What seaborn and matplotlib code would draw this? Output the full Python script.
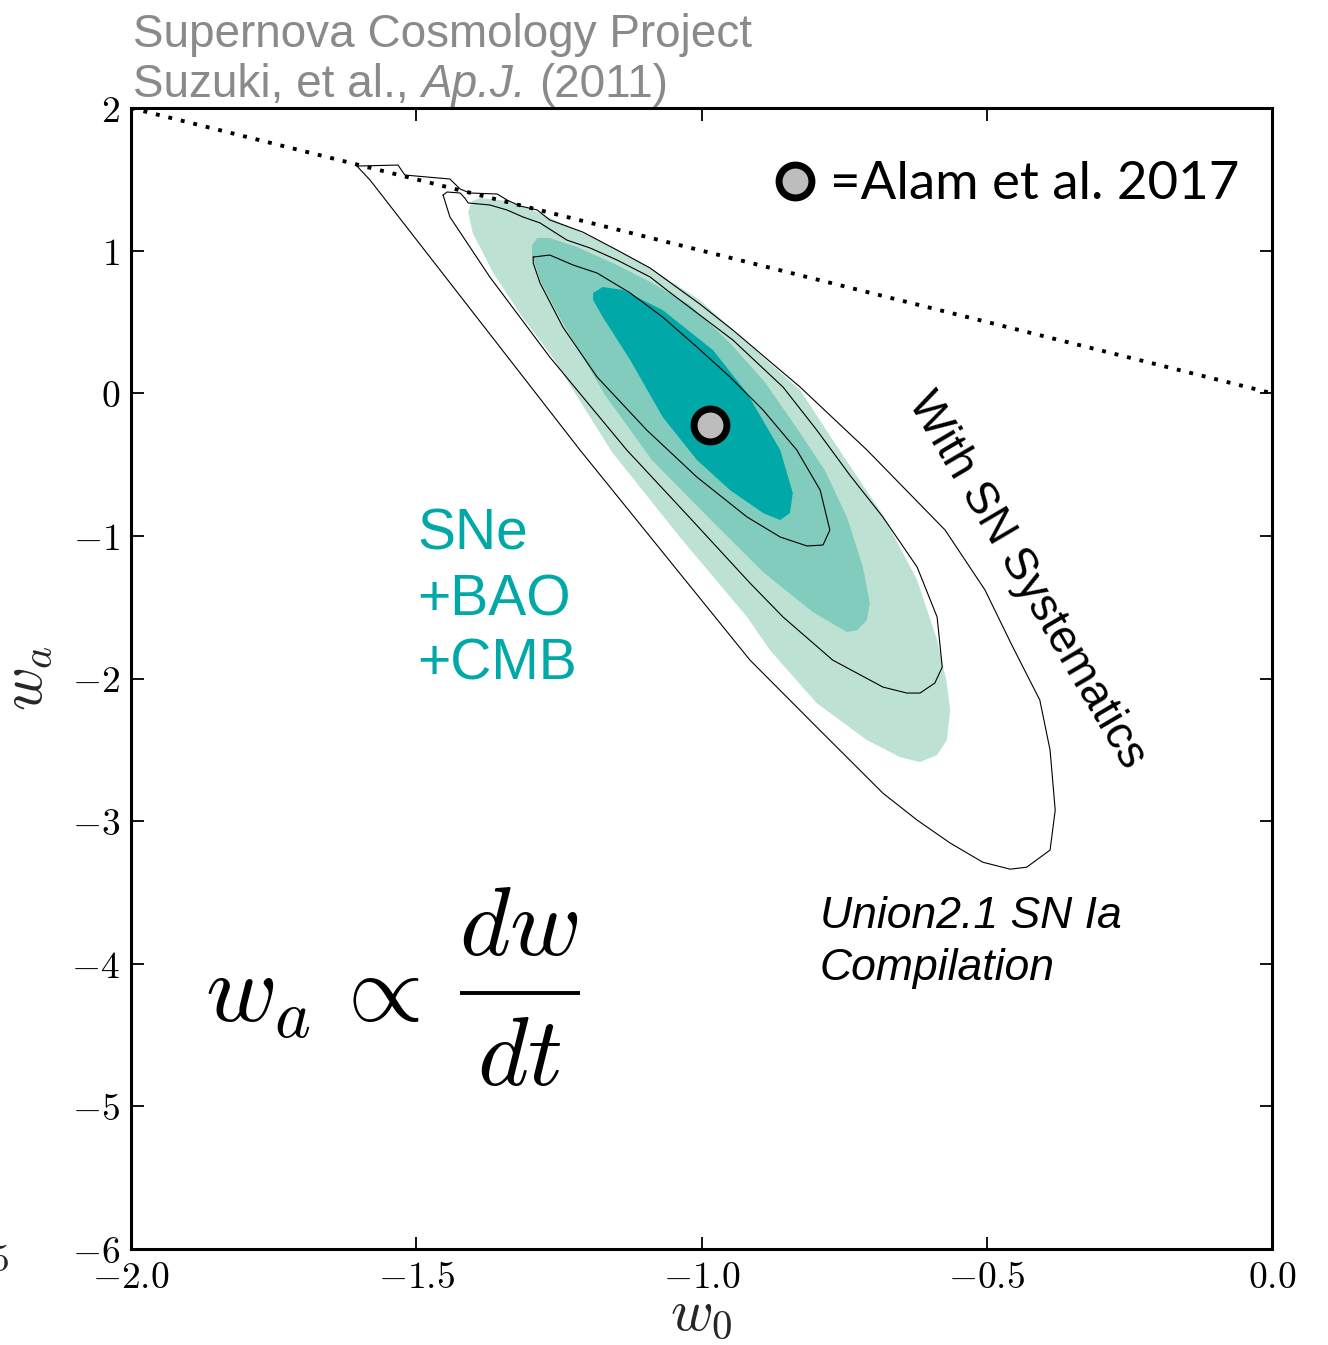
import numpy as np
import pandas as pd
import matplotlib
matplotlib.use("Agg")
import matplotlib.pyplot as plt
import seaborn as sns

# ---------------- data (w0, wa) ----------------
x_ticks = [-2.0, -1.5, -1.0, -0.5, 0.0]
x_tick_labels = ["$-2.0$", "$-1.5$", "$-1.0$", "$-0.5$", "$0.0$"]
y_ticks = [-6, -5, -4, -3, -2, -1, 0, 1, 2]
y_tick_labels = ["$-6$", "$-5$", "$-4$", "$-3$", "$-2$", "$-1$", "$0$", "$1$", "$2$"]

# boundary w0 + wa = 0
bound_w0 = [-2.0, 0.0]
bound_wa = [2.0, 0.0]

# filled contours (statistical only): 99.7 %, 95.4 %, 68.3 %
light_w0 = [-1.409, -1.402, -1.388, -1.341, -1.288, -1.208, -1.148, -1.090, -1.003, -0.945,
            -0.827, -0.770, -0.682, -0.622, -0.587, -0.571, -0.564, -0.570, -0.587, -0.617,
            -0.652, -0.710, -0.798, -0.880, -0.920, -1.038, -1.157, -1.260, -1.313, -1.365, -1.401]
light_wa = [1.271, 1.348, 1.369, 1.348, 1.271, 1.123, 1.004, 0.878, 0.654, 0.443,
            0.022, -0.328, -0.854, -1.310, -1.731, -2.011, -2.222, -2.432, -2.537, -2.586,
            -2.551, -2.432, -2.173, -1.801, -1.569, -1.008, -0.412, 0.247, 0.527, 0.843, 1.123]

mid_w0 = [-1.297, -1.288, -1.266, -1.218, -1.148, -1.090, -1.020, -0.950, -0.889, -0.833,
          -0.784, -0.745, -0.717, -0.705, -0.710, -0.727, -0.745, -0.805, -0.892, -0.980,
          -1.087, -1.169, -1.248, -1.283, -1.297]
mid_wa = [1.039, 1.088, 1.088, 1.025, 0.899, 0.780, 0.618, 0.352, 0.079, -0.244,
          -0.539, -0.868, -1.219, -1.471, -1.590, -1.661, -1.675, -1.534, -1.254, -0.903,
          -0.468, -0.013, 0.527, 0.794, 0.969]

dark_w0 = [-1.190, -1.173, -1.138, -1.068, -0.980, -0.920, -0.862, -0.840, -0.845, -0.862,
           -0.892, -0.950, -1.008, -1.068, -1.125, -1.173, -1.190]
dark_wa = [0.703, 0.745, 0.724, 0.583, 0.303, 0.000, -0.398, -0.700, -0.840, -0.889,
           -0.840, -0.679, -0.468, -0.167, 0.233, 0.534, 0.654]

# line contours (with SN systematics)
sys3_w0 = [-1.604, -1.532, -1.520, -1.441, -1.423, -1.406, -1.358, -1.341, -1.318, -1.288,
           -1.266, -1.208, -1.148, -1.090, -1.003, -0.945, -0.827, -0.710, -0.573, -0.503,
           -0.456, -0.407, -0.389, -0.380, -0.389, -0.430, -0.459, -0.507, -0.564, -0.622,
           -0.682, -0.798, -0.915, -1.213, -1.581, -1.604]
sys3_wa = [1.593, 1.600, 1.530, 1.502, 1.432, 1.404, 1.397, 1.355, 1.313, 1.285,
           1.215, 1.130, 1.004, 0.878, 0.626, 0.443, 0.043, -0.398, -0.959, -1.380,
           -1.766, -2.151, -2.502, -2.923, -3.203, -3.323, -3.337, -3.288, -3.154, -2.993,
           -2.804, -2.341, -1.871, -0.398, 1.495, 1.593]

sys2_w0 = [-1.453, -1.446, -1.423, -1.415, -1.409, -1.371, -1.341, -1.313, -1.283, -1.236,
           -1.195, -1.148, -1.090, -1.061, -0.945, -0.857, -0.798, -0.740, -0.682, -0.622,
           -0.587, -0.578, -0.591, -0.617, -0.640, -0.682, -0.770, -0.857, -0.915, -1.020,
           -1.131, -1.266, -1.371, -1.441, -1.453]
sys2_wa = [1.390, 1.411, 1.404, 1.369, 1.334, 1.320, 1.285, 1.236, 1.194, 1.074,
           1.018, 0.934, 0.815, 0.724, 0.373, 0.043, -0.258, -0.574, -0.868, -1.219,
           -1.569, -1.920, -2.032, -2.102, -2.102, -2.060, -1.871, -1.569, -1.331, -0.875,
           -0.398, 0.254, 0.815, 1.236, 1.390]

sys1_w0 = [-1.295, -1.266, -1.225, -1.183, -1.125, -1.068, -1.008, -0.950, -0.892, -0.833,
           -0.792, -0.775, -0.787, -0.815, -0.862, -0.920, -1.008, -1.096, -1.183, -1.243,
           -1.283, -1.295, -1.295]
sys1_wa = [0.955, 0.969, 0.899, 0.843, 0.703, 0.534, 0.324, 0.114, -0.118, -0.398,
           -0.679, -0.959, -1.064, -1.071, -1.008, -0.868, -0.588, -0.258, 0.114, 0.464,
           0.773, 0.913, 0.955]

# Alam et al. 2017 point and legend symbol
alam_w0 = [-0.985]
alam_wa = [-0.22]
legend_w0 = [-0.836]
legend_wa = [1.49]

# ---------------- style ----------------
sns.set_theme(style="white")
plt.rcParams["font.family"] = ["Liberation Sans", "DejaVu Sans"]
plt.rcParams["mathtext.fontset"] = "cm"

W, H = 1328, 1345
fig = plt.figure(figsize=(W / 100, H / 100), dpi=100)
L, R, T, B = 131, 1272, 108, 1249
ax = fig.add_axes([L / W, 1 - B / H, (R - L) / W, (B - T) / H])
ax.set_facecolor("white")

LIGHT = "#bde2d3"
MID = "#82ccbe"
DARK = "#00a8a8"

ax.fill(light_w0, light_wa, color=LIGHT, lw=0, zorder=1)
ax.fill(mid_w0, mid_wa, color=MID, lw=0, zorder=2)
ax.fill(dark_w0, dark_wa, color=DARK, lw=0, zorder=3)

for xs, ys in [(sys3_w0, sys3_wa), (sys2_w0, sys2_wa), (sys1_w0, sys1_wa)]:
    sns.lineplot(x=xs, y=ys, sort=False, estimator=None, color="black", lw=0.8,
                 ax=ax, zorder=4, legend=False)

sns.lineplot(x=bound_w0, y=bound_wa, sort=False, estimator=None, color="black", lw=2.8,
             ax=ax, zorder=4, legend=False, linestyle=(0, (1, 2.3)), dash_capstyle="butt")

for xs, ys in [(alam_w0, alam_wa), (legend_w0, legend_wa)]:
    sns.scatterplot(x=xs, y=ys, s=560, color="#bdbdbd", edgecolor="black", linewidth=5,
                    ax=ax, zorder=6, legend=False, clip_on=False)

ax.set_xlim(-2, 0)
ax.set_ylim(-6, 2)
ax.set_xticks(x_ticks)
ax.set_xticklabels(x_tick_labels)
ax.set_yticks(y_ticks)
ax.set_yticklabels(y_tick_labels)
ax.tick_params(direction="in", length=9, width=1.3, labelsize=27, top=True, right=True,
               bottom=True, left=True, colors="black", pad=8)
for s in ax.spines.values():
    s.set_linewidth(2.2)
    s.set_color("black")
ax.grid(False)

ax.set_xlabel("$w_0$", fontsize=42, labelpad=-6)
ax.set_ylabel("$w_a$", fontsize=43, labelpad=12)


def axf(px, py):
    return (px - L) / (R - L), (B - py) / (B - T)


# legend text
ax.text(*axf(830, 199), "=Alam et al. 2017", transform=ax.transAxes, fontsize=38,
        family=["Lato", "DejaVu Sans"], ha="left", va="baseline", color="black")

# SNe + BAO + CMB
for txt, yb in [("SNe", 550), ("+BAO", 615), ("+CMB", 680)]:
    ax.text(*axf(417, yb), txt, transform=ax.transAxes, fontsize=41, color=DARK,
            ha="left", va="baseline")

# With SN Systematics
ax.text(*axf(1027, 580), "With SN Systematics", transform=ax.transAxes, fontsize=33,
        rotation=-59.5, rotation_mode="anchor", ha="center", va="center", color="black")

# Union2.1
ax.text(*axf(820, 928), "Union2.1 SN Ia", transform=ax.transAxes, fontsize=32,
        style="italic", ha="left", va="baseline", color="black")
ax.text(*axf(820, 980), "Compilation", transform=ax.transAxes, fontsize=32,
        style="italic", ha="left", va="baseline", color="black")

# formula  w_a ∝ dw/dt
ax.text(*axf(205, 1021), r"$w_a\,\propto$", transform=ax.transAxes,
        fontsize=70, ha="left", va="baseline", color="black")
ax.text(*axf(519, 955), r"$dw$", transform=ax.transAxes,
        fontsize=70, ha="center", va="baseline", color="black")
ax.text(*axf(519, 1085), r"$dt$", transform=ax.transAxes,
        fontsize=70, ha="center", va="baseline", color="black")
bx0, by = axf(460, 993)
bx1, _ = axf(580, 993)
ax.plot([bx0, bx1], [by, by], transform=ax.transAxes, color="black", lw=2.8,
        solid_capstyle="butt", clip_on=False, zorder=5)

# header
GRAY = "#8a8a8a"
HS = 33
fig.text(133 / W, 1 - 47 / H, "Supernova Cosmology Project", fontsize=HS, color=GRAY,
         ha="left", va="baseline")
fig.canvas.draw()
renderer = fig.canvas.get_renderer()
t1 = fig.text(133 / W, 1 - 97 / H, "Suzuki, et al.,", fontsize=HS, color=GRAY,
              ha="left", va="baseline")
bb1 = t1.get_window_extent(renderer)
space = HS * 100 / 72 * 0.278
t2 = fig.text((bb1.x1 + space) / W, 1 - 97 / H, "Ap.J.", fontsize=HS, color=GRAY,
              style="italic", ha="left", va="baseline")
bb2 = t2.get_window_extent(renderer)
fig.text((bb2.x1 + space) / W, 1 - 97 / H, "(2011)", fontsize=HS, color=GRAY,
         ha="left", va="baseline")

# stray label at left edge
fig.text(9 / W, 1 - 1261 / H, "$5$", fontsize=27, ha="right", va="center")

fig.savefig("out.png", dpi=100)
